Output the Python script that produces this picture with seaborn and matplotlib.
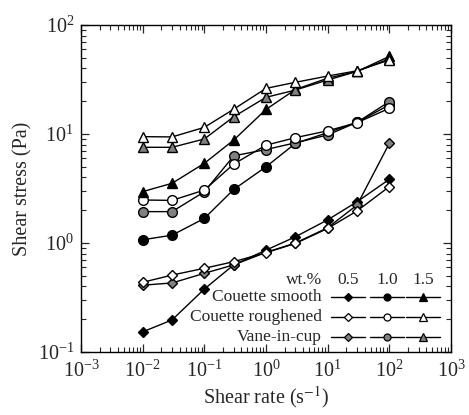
import numpy as np
import pandas as pd
import matplotlib
matplotlib.use("Agg")
import matplotlib.pyplot as plt
import seaborn as sns

# ---- data ----
shear_rate = [0.01, 0.03, 0.1, 0.3, 1, 3, 10, 30, 100]

smooth_05 = [0.153, 0.197, 0.378, 0.63, 0.86, 1.14, 1.63, 2.39, 3.84]
rough_05 = [0.436, 0.508, 0.586, 0.674, 0.815, 0.99, 1.36, 1.97, 3.29]
vane_05 = [0.41, 0.43, 0.527, 0.63, 0.82, 1.0, 1.38, 2.23, 8.2]

smooth_10 = [1.07, 1.18, 1.68, 3.1, 5.0, 8.2, 10.3, 12.8, 18.5]
rough_10 = [2.48, 2.46, 3.06, 5.3, 7.9, 9.25, 10.7, 12.7, 17.2]
vane_10 = [1.94, 1.94, 2.95, 6.3, 7.2, 8.3, 9.8, 12.8, 19.8]

smooth_15 = [2.96, 3.53, 5.38, 8.8, 16.8, 25.6, 32.5, 37.5, 51.5]
rough_15 = [9.45, 9.4, 11.5, 16.9, 26.2, 29.8, 34.0, 38.0, 47.7]
vane_15 = [7.55, 7.55, 9.0, 14.4, 21.7, 25.3, 31.3, 37.5, 49.0]

methods = ["Couette smooth", "Couette roughened", "Vane-in-cup"]
conc_labels = ["0.5", "1.0", "1.5"]
header = "wt.%"

series = {
    ("Couette smooth", "0.5"): smooth_05,
    ("Couette roughened", "0.5"): rough_05,
    ("Vane-in-cup", "0.5"): vane_05,
    ("Couette smooth", "1.0"): smooth_10,
    ("Couette roughened", "1.0"): rough_10,
    ("Vane-in-cup", "1.0"): vane_10,
    ("Couette smooth", "1.5"): smooth_15,
    ("Couette roughened", "1.5"): rough_15,
    ("Vane-in-cup", "1.5"): vane_15,
}

# ---- styles ----
face = {"Couette smooth": "black", "Couette roughened": "white", "Vane-in-cup": "#808080"}
marker = {"0.5": "D", "1.0": "o", "1.5": "^"}
msize = {"0.5": 5.2, "1.0": 7.0, "1.5": 7.8}
draw_order = ["Couette smooth", "Vane-in-cup", "Couette roughened"]

sns.set_style("ticks")
plt.rcParams["font.family"] = ["Liberation Serif", "DejaVu Serif"]
plt.rcParams["mathtext.fontset"] = "stix"

fig = plt.figure(figsize=(4.69, 4.15), dpi=100)
ax = fig.add_axes([0.1727, 0.1518, 0.7889, 0.788])

for c in conc_labels:
    for m in draw_order:
        df = pd.DataFrame({"x": shear_rate, "y": series[(m, c)]})
        sns.lineplot(data=df, x="x", y="y", ax=ax, color="black", lw=1.0,
                     marker=marker[c], markersize=msize[c],
                     markerfacecolor=face[m], markeredgecolor="black",
                     markeredgewidth=1.0)

ax.set_xscale("log")
ax.set_yscale("log")
ax.set_xlim(1e-3, 1e3)
ax.set_ylim(1e-1, 1e2)
ax.set_xlabel(r"Shear rate (s$^{-1}$)", fontsize=14.5, labelpad=2)
ax.set_ylabel("Shear stress (Pa)", fontsize=14.5, labelpad=4)

ax.tick_params(which="both", direction="in", top=True, right=True, labelsize=14.5)
ax.tick_params(which="major", length=6, width=0.9)
ax.tick_params(which="minor", length=3.5, width=0.8)
ax.tick_params(axis="x", pad=6)
ax.tick_params(axis="y", pad=5)
for s in ax.spines.values():
    s.set_linewidth(1.0)
    s.set_color("black")

# ---- table-style legend ----
tx = 0.651
cols = [0.722, 0.827, 0.924]
hw = 0.046
y_head = 0.220
rows = [0.168, 0.107, 0.046]
fs = 12.5
ax.text(tx, y_head, header, transform=ax.transAxes, ha="right", va="center", fontsize=fs)
for cx, c in zip(cols, conc_labels):
    ax.text(cx, y_head, c, transform=ax.transAxes, ha="center", va="center", fontsize=fs)
for ry, m in zip(rows, methods):
    ax.text(tx, ry, m, transform=ax.transAxes, ha="right", va="center", fontsize=fs)
    for cx, c in zip(cols, conc_labels):
        ax.plot([cx - hw, cx, cx + hw], [ry, ry, ry], transform=ax.transAxes,
                color="black", lw=1.0, marker=marker[c], markevery=[1],
                markersize=msize[c] * 0.72, markerfacecolor=face[m],
                markeredgecolor="black", markeredgewidth=0.9, clip_on=False)

fig.savefig("out.png", dpi=100)
